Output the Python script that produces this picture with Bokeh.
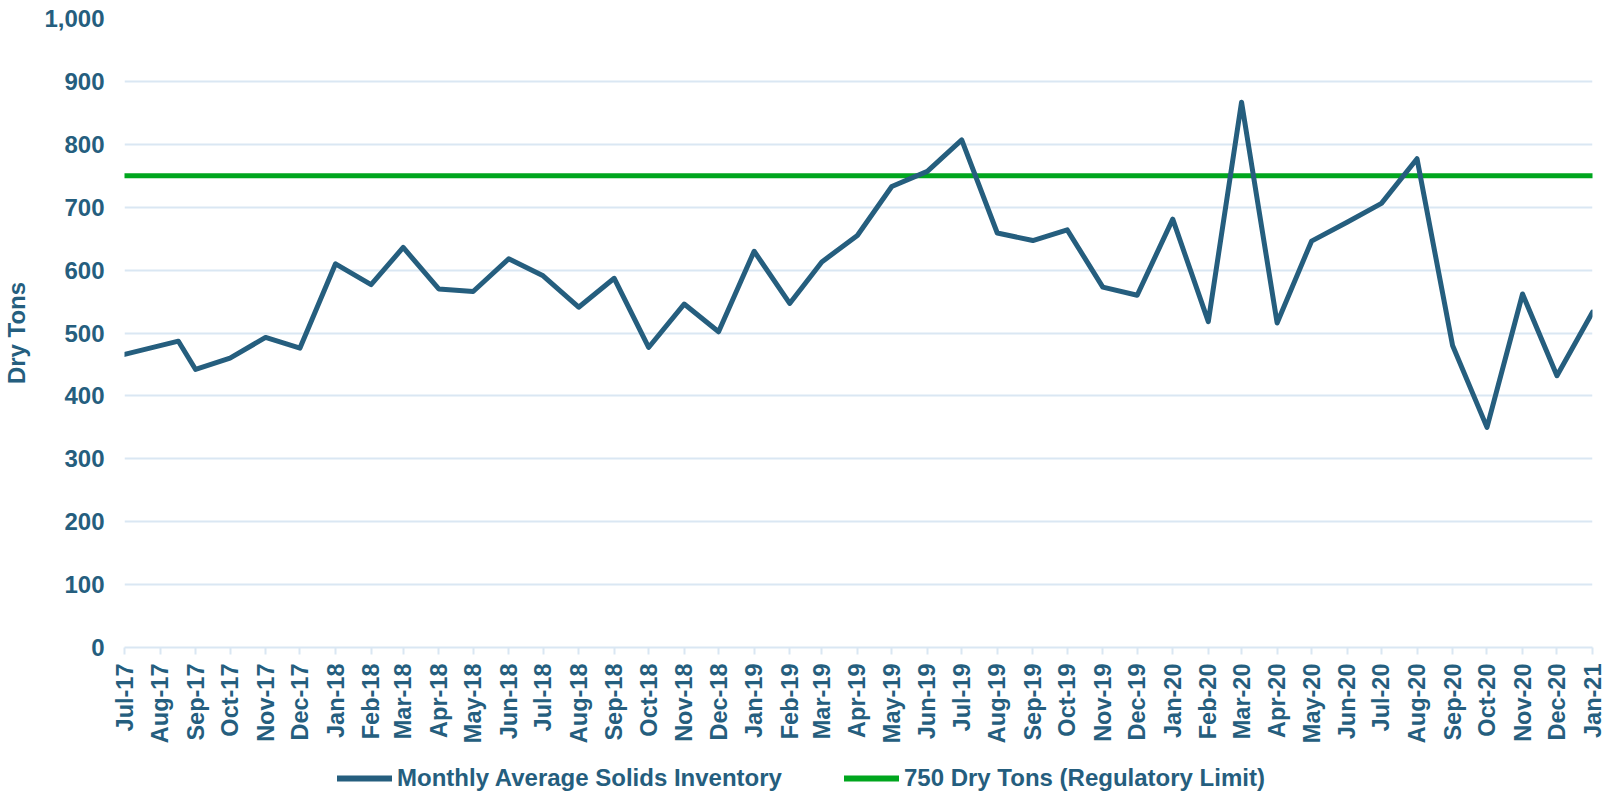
import math
import pandas as pd
from bokeh.plotting import figure
from bokeh.layouts import column
from bokeh.models import (Range1d, FixedTicker, DatetimeTickFormatter, NumeralTickFormatter,
                          Legend, LegendItem)
from bokeh.embed import file_html
from bokeh.resources import INLINE

# ---- data ----
dates = ["2017-07-01", "2017-08-17", "2017-09-01", "2017-10-01", "2017-11-01", "2017-12-01",
         "2018-01-01", "2018-02-01", "2018-03-01", "2018-04-01", "2018-05-01", "2018-06-01",
         "2018-07-01", "2018-08-01", "2018-09-01", "2018-10-01", "2018-11-01", "2018-12-01",
         "2019-01-01", "2019-02-01", "2019-03-01", "2019-04-01", "2019-05-01", "2019-06-01",
         "2019-07-01", "2019-08-01", "2019-09-01", "2019-10-01", "2019-11-01", "2019-12-01",
         "2020-01-01", "2020-02-01", "2020-03-01", "2020-04-01", "2020-05-01", "2020-06-01",
         "2020-07-01", "2020-08-01", "2020-09-01", "2020-10-01", "2020-11-01", "2020-12-01",
         "2021-01-01"]
inventory = [466, 487, 442, 460, 493, 476,
             610, 577, 636, 570, 566, 618,
             591, 541, 587, 477, 546, 502,
             630, 547, 613, 655, 733, 757,
             807, 659, 647, 664, 573, 560,
             681, 518, 867, 516, 646, 676,
             706, 777, 480, 350, 562, 432,
             533]
limit_dates = ["2017-07-01", "2021-01-01"]
limit_values = [750, 750]
y_ticks = [0, 100, 200, 300, 400, 500, 600, 700, 800, 900, 1000]
series_names = ["Monthly Average Solids Inventory", "750 Dry Tons (Regulatory Limit)"]

TEXT = "#255E7E"
BLUE = "#255E7E"
GREEN = "#00A61E"
GRID = "#DAE7F3"
FONT = "Liberation Sans"
LW = 5

x = pd.to_datetime(dates)
lx = pd.to_datetime(limit_dates)
month_ticks = pd.date_range(limit_dates[0], limit_dates[-1], freq="MS")
tick_ms = [int(t.value // 10**6) for t in month_ticks]

p = figure(width=1612, height=747, x_axis_type="datetime",
           output_backend="svg", toolbar_location=None,
           x_range=Range1d(lx[0], lx[-1]), y_range=Range1d(0, 1000),
           min_border_left=123, min_border_right=20, min_border_top=18, min_border_bottom=100)
p.outline_line_color = None
p.background_fill_color = "white"
p.border_fill_color = "white"

p.line(lx, limit_values, line_color=GREEN, line_width=LW, line_cap="round")
p.line(x, inventory, line_color=BLUE, line_width=LW, line_join="round", line_cap="round")

# axes
xa = p.xaxis[0]
xa.ticker = FixedTicker(ticks=tick_ms)
xa.formatter = DatetimeTickFormatter(months="%b-%y", days="%b-%y", years="%b-%y")
xa.major_label_orientation = math.pi / 2
xa.axis_line_color = GRID
xa.axis_line_width = 2
xa.major_tick_line_color = GRID
xa.major_tick_line_width = 2
xa.major_tick_out = 7
xa.major_tick_in = 0
xa.minor_tick_line_color = None
xa.minor_tick_out = 0
xa.major_label_text_font = FONT
xa.major_label_text_font_style = "bold"
xa.major_label_text_font_size = "23.5px"
xa.major_label_text_color = TEXT
xa.major_label_standoff = 9

ya = p.yaxis[0]
ya.ticker = FixedTicker(ticks=y_ticks)
ya.formatter = NumeralTickFormatter(format="0,0")
ya.axis_line_color = None
ya.major_tick_line_color = None
ya.major_tick_out = 0
ya.major_tick_in = 0
ya.minor_tick_line_color = None
ya.minor_tick_out = 0
ya.major_label_text_font = FONT
ya.major_label_text_font_style = "bold"
ya.major_label_text_font_size = "24px"
ya.major_label_text_color = TEXT
ya.major_label_standoff = 20
ya.axis_label = "Dry Tons"
ya.axis_label_text_font = FONT
ya.axis_label_text_font_style = "bold"
ya.axis_label_text_font_size = "24px"
ya.axis_label_text_color = TEXT
ya.axis_label_standoff = 11

p.xgrid.grid_line_color = None
p.ygrid.ticker = FixedTicker(ticks=y_ticks)
p.ygrid.grid_line_color = GRID
p.ygrid.grid_line_width = 2

# ---- legend strip (its frame is aligned with the chart frame by the column) ----
lg = figure(width=1612, height=48, output_backend="svg", toolbar_location=None,
            x_range=p.x_range, y_range=Range1d(2000, 3000),
            x_axis_location=None, y_axis_location=None,
            min_border_left=0, min_border_right=0, min_border_top=0, min_border_bottom=0)
lg.outline_line_color = None
lg.xgrid.grid_line_color = None
lg.ygrid.grid_line_color = None
# same series, drawn outside this strip's visible y range: only their legend keys show
k_inv = lg.line(x, inventory, line_color=BLUE, line_width=6, line_cap="round")
k_lim = lg.line(lx, limit_values, line_color=GREEN, line_width=6, line_cap="round")
legend = Legend(items=[LegendItem(label=series_names[0], renderers=[k_inv]),
                       LegendItem(label=series_names[1], renderers=[k_lim])],
                orientation="horizontal", location=(213, 3),
                border_line_color=None, background_fill_alpha=0,
                label_text_font=FONT, label_text_font_style="bold",
                label_text_font_size="24px", label_text_color=TEXT,
                glyph_width=55, glyph_height=24, label_standoff=5, spacing=62,
                padding=0, margin=0, label_height=24)
lg.add_layout(legend)

open("out.html", "w").write(file_html(column(p, lg, spacing=0), INLINE))
